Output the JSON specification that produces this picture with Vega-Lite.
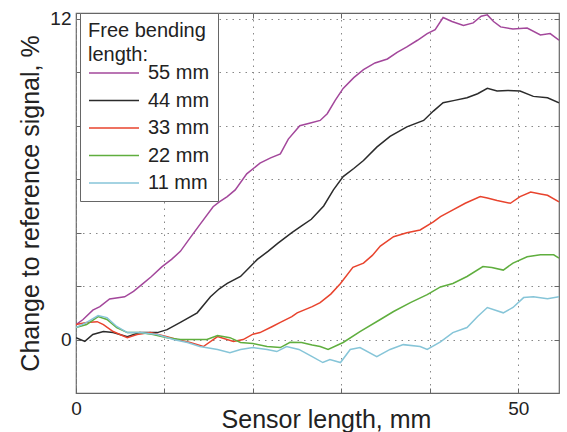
{
  "$schema": "https://vega.github.io/schema/vega-lite/v6.json",
  "width": 483,
  "height": 380,
  "autosize": "none",
  "padding": {"left": 76, "top": 13, "right": 8, "bottom": 39},
  "background": "white",
  "config": {
    "font": "Liberation Sans",
    "view": {"stroke": "#666", "strokeWidth": 1.2},
    "axis": {"domain": false, "labelColor": "#222", "titleColor": "#222", "titleFontWeight": "normal", "tickColor": "#666", "gridColor": "#888", "gridDash": [1.5, 5], "gridWidth": 1, "gridOpacity": 1}
  },
  "data": {"values": [
    {"s":"55 mm","x":0,"y":0.56},{"s":"55 mm","x":0.8,"y":0.75},{"s":"55 mm","x":1.9,"y":1.1},{"s":"55 mm","x":2.7,"y":1.23},{"s":"55 mm","x":3.8,"y":1.52},{"s":"55 mm","x":5.5,"y":1.6},{"s":"55 mm","x":6.5,"y":1.8},{"s":"55 mm","x":7.6,"y":2.1},{"s":"55 mm","x":8.5,"y":2.35},{"s":"55 mm","x":9.7,"y":2.72},{"s":"55 mm","x":10.8,"y":3.0},{"s":"55 mm","x":11.8,"y":3.3},{"s":"55 mm","x":13,"y":3.85},{"s":"55 mm","x":14,"y":4.3},{"s":"55 mm","x":15.5,"y":4.97},{"s":"55 mm","x":16.2,"y":5.15},{"s":"55 mm","x":17.1,"y":5.35},{"s":"55 mm","x":18,"y":5.6},{"s":"55 mm","x":19.3,"y":6.2},{"s":"55 mm","x":20.8,"y":6.6},{"s":"55 mm","x":22,"y":6.8},{"s":"55 mm","x":23.1,"y":6.95},{"s":"55 mm","x":24,"y":7.5},{"s":"55 mm","x":25.3,"y":8.0},{"s":"55 mm","x":26.5,"y":8.1},{"s":"55 mm","x":27.6,"y":8.2},{"s":"55 mm","x":28.4,"y":8.45},{"s":"55 mm","x":29.3,"y":8.95},{"s":"55 mm","x":30.2,"y":9.4},{"s":"55 mm","x":31.4,"y":9.8},{"s":"55 mm","x":32.5,"y":10.1},{"s":"55 mm","x":33.8,"y":10.35},{"s":"55 mm","x":35.2,"y":10.5},{"s":"55 mm","x":36.3,"y":10.75},{"s":"55 mm","x":37.4,"y":10.95},{"s":"55 mm","x":38.6,"y":11.2},{"s":"55 mm","x":39.7,"y":11.45},{"s":"55 mm","x":40.6,"y":11.6},{"s":"55 mm","x":41.5,"y":12.05},{"s":"55 mm","x":42.5,"y":11.9},{"s":"55 mm","x":43.8,"y":11.75},{"s":"55 mm","x":44.9,"y":11.85},{"s":"55 mm","x":45.8,"y":12.1},{"s":"55 mm","x":46.5,"y":12.15},{"s":"55 mm","x":47.2,"y":11.9},{"s":"55 mm","x":48,"y":11.7},{"s":"55 mm","x":49.4,"y":11.62},{"s":"55 mm","x":51,"y":11.66},{"s":"55 mm","x":52.5,"y":11.4},{"s":"55 mm","x":53.6,"y":11.45},{"s":"55 mm","x":54.6,"y":11.2},
    {"s":"44 mm","x":0,"y":0.07},{"s":"44 mm","x":1,"y":-0.07},{"s":"44 mm","x":1.9,"y":0.19},{"s":"44 mm","x":3.1,"y":0.3},{"s":"44 mm","x":4.2,"y":0.26},{"s":"44 mm","x":5.8,"y":0.11},{"s":"44 mm","x":7.2,"y":0.26},{"s":"44 mm","x":9.2,"y":0.26},{"s":"44 mm","x":10.3,"y":0.37},{"s":"44 mm","x":11.8,"y":0.64},{"s":"44 mm","x":13.7,"y":1.0},{"s":"44 mm","x":15.2,"y":1.6},{"s":"44 mm","x":16.2,"y":1.9},{"s":"44 mm","x":17.1,"y":2.1},{"s":"44 mm","x":18.6,"y":2.36},{"s":"44 mm","x":19.6,"y":2.7},{"s":"44 mm","x":20.5,"y":3.0},{"s":"44 mm","x":21.7,"y":3.3},{"s":"44 mm","x":22.8,"y":3.6},{"s":"44 mm","x":24.4,"y":4.0},{"s":"44 mm","x":25.5,"y":4.25},{"s":"44 mm","x":26.6,"y":4.5},{"s":"44 mm","x":28,"y":5.0},{"s":"44 mm","x":29.1,"y":5.6},{"s":"44 mm","x":30.2,"y":6.1},{"s":"44 mm","x":31.4,"y":6.4},{"s":"44 mm","x":32.5,"y":6.7},{"s":"44 mm","x":34,"y":7.2},{"s":"44 mm","x":35.5,"y":7.6},{"s":"44 mm","x":37.4,"y":7.96},{"s":"44 mm","x":39.3,"y":8.2},{"s":"44 mm","x":40.4,"y":8.55},{"s":"44 mm","x":41.5,"y":8.86},{"s":"44 mm","x":42.8,"y":8.95},{"s":"44 mm","x":44.2,"y":9.05},{"s":"44 mm","x":45.4,"y":9.2},{"s":"44 mm","x":46.5,"y":9.4},{"s":"44 mm","x":47.6,"y":9.3},{"s":"44 mm","x":48.8,"y":9.32},{"s":"44 mm","x":50.2,"y":9.3},{"s":"44 mm","x":51.7,"y":9.1},{"s":"44 mm","x":53.3,"y":9.05},{"s":"44 mm","x":54.6,"y":8.86},
    {"s":"33 mm","x":0,"y":0.56},{"s":"33 mm","x":1.2,"y":0.64},{"s":"33 mm","x":2.4,"y":0.67},{"s":"33 mm","x":3.1,"y":0.56},{"s":"33 mm","x":4.2,"y":0.3},{"s":"33 mm","x":5.8,"y":0.07},{"s":"33 mm","x":6.9,"y":0.19},{"s":"33 mm","x":8.4,"y":0.26},{"s":"33 mm","x":10.3,"y":0.11},{"s":"33 mm","x":11.4,"y":0.0},{"s":"33 mm","x":12.9,"y":-0.11},{"s":"33 mm","x":14.4,"y":-0.26},{"s":"33 mm","x":16,"y":0.11},{"s":"33 mm","x":17.8,"y":-0.07},{"s":"33 mm","x":18.9,"y":0.0},{"s":"33 mm","x":20,"y":0.2},{"s":"33 mm","x":20.8,"y":0.26},{"s":"33 mm","x":22.2,"y":0.49},{"s":"33 mm","x":23.1,"y":0.64},{"s":"33 mm","x":24.4,"y":0.86},{"s":"33 mm","x":25,"y":1.0},{"s":"33 mm","x":26.7,"y":1.23},{"s":"33 mm","x":27.6,"y":1.38},{"s":"33 mm","x":28.8,"y":1.7},{"s":"33 mm","x":29.9,"y":2.1},{"s":"33 mm","x":31.3,"y":2.7},{"s":"33 mm","x":32.5,"y":2.86},{"s":"33 mm","x":33.5,"y":3.15},{"s":"33 mm","x":34.4,"y":3.5},{"s":"33 mm","x":35.9,"y":3.85},{"s":"33 mm","x":37.4,"y":4.0},{"s":"33 mm","x":38.9,"y":4.1},{"s":"33 mm","x":40.4,"y":4.4},{"s":"33 mm","x":41.2,"y":4.6},{"s":"33 mm","x":42.3,"y":4.8},{"s":"33 mm","x":44,"y":5.1},{"s":"33 mm","x":45.7,"y":5.35},{"s":"33 mm","x":46.5,"y":5.3},{"s":"33 mm","x":47.6,"y":5.2},{"s":"33 mm","x":49.1,"y":5.1},{"s":"33 mm","x":50.2,"y":5.35},{"s":"33 mm","x":51.4,"y":5.52},{"s":"33 mm","x":52.5,"y":5.45},{"s":"33 mm","x":53.3,"y":5.4},{"s":"33 mm","x":54.6,"y":5.15},
    {"s":"22 mm","x":0,"y":0.45},{"s":"22 mm","x":1.2,"y":0.56},{"s":"22 mm","x":2.5,"y":0.86},{"s":"22 mm","x":3.5,"y":0.75},{"s":"22 mm","x":4.6,"y":0.45},{"s":"22 mm","x":5.8,"y":0.26},{"s":"22 mm","x":7.2,"y":0.26},{"s":"22 mm","x":8.7,"y":0.19},{"s":"22 mm","x":10.3,"y":0.07},{"s":"22 mm","x":11.8,"y":0.0},{"s":"22 mm","x":13.2,"y":0.0},{"s":"22 mm","x":14.8,"y":0.0},{"s":"22 mm","x":16,"y":0.15},{"s":"22 mm","x":17.4,"y":0.07},{"s":"22 mm","x":18.6,"y":-0.11},{"s":"22 mm","x":20,"y":-0.15},{"s":"22 mm","x":21.6,"y":-0.26},{"s":"22 mm","x":23.1,"y":-0.3},{"s":"22 mm","x":24.2,"y":-0.1},{"s":"22 mm","x":25.5,"y":-0.11},{"s":"22 mm","x":26.7,"y":-0.2},{"s":"22 mm","x":27.6,"y":-0.26},{"s":"22 mm","x":28.5,"y":-0.37},{"s":"22 mm","x":30.2,"y":-0.11},{"s":"22 mm","x":32.1,"y":0.3},{"s":"22 mm","x":34.4,"y":0.75},{"s":"22 mm","x":35.9,"y":1.05},{"s":"22 mm","x":37.8,"y":1.38},{"s":"22 mm","x":39.7,"y":1.68},{"s":"22 mm","x":41.2,"y":1.97},{"s":"22 mm","x":42.6,"y":2.1},{"s":"22 mm","x":44.2,"y":2.36},{"s":"22 mm","x":46,"y":2.73},{"s":"22 mm","x":47,"y":2.7},{"s":"22 mm","x":48.3,"y":2.6},{"s":"22 mm","x":49.4,"y":2.86},{"s":"22 mm","x":51,"y":3.1},{"s":"22 mm","x":52.5,"y":3.17},{"s":"22 mm","x":54,"y":3.17},{"s":"22 mm","x":54.6,"y":3.05},
    {"s":"11 mm","x":0,"y":0.45},{"s":"11 mm","x":1.2,"y":0.64},{"s":"11 mm","x":2.5,"y":0.9},{"s":"11 mm","x":3.5,"y":0.82},{"s":"11 mm","x":4.6,"y":0.49},{"s":"11 mm","x":5.8,"y":0.26},{"s":"11 mm","x":7.2,"y":0.26},{"s":"11 mm","x":9.2,"y":0.19},{"s":"11 mm","x":11,"y":0.0},{"s":"11 mm","x":12.6,"y":-0.11},{"s":"11 mm","x":14,"y":-0.26},{"s":"11 mm","x":16,"y":-0.37},{"s":"11 mm","x":17.4,"y":-0.49},{"s":"11 mm","x":18.6,"y":-0.37},{"s":"11 mm","x":20,"y":-0.3},{"s":"11 mm","x":21.6,"y":-0.37},{"s":"11 mm","x":22.7,"y":-0.45},{"s":"11 mm","x":23.8,"y":-0.26},{"s":"11 mm","x":25.2,"y":-0.37},{"s":"11 mm","x":26.7,"y":-0.64},{"s":"11 mm","x":27.9,"y":-0.86},{"s":"11 mm","x":28.7,"y":-0.75},{"s":"11 mm","x":29.9,"y":-0.86},{"s":"11 mm","x":31,"y":-0.37},{"s":"11 mm","x":32.1,"y":-0.3},{"s":"11 mm","x":34,"y":-0.64},{"s":"11 mm","x":35.5,"y":-0.37},{"s":"11 mm","x":37,"y":-0.19},{"s":"11 mm","x":38.9,"y":-0.26},{"s":"11 mm","x":39.7,"y":-0.37},{"s":"11 mm","x":41.2,"y":-0.09},{"s":"11 mm","x":42.6,"y":0.26},{"s":"11 mm","x":44.2,"y":0.45},{"s":"11 mm","x":45.4,"y":0.86},{"s":"11 mm","x":46.5,"y":1.2},{"s":"11 mm","x":48.3,"y":1.0},{"s":"11 mm","x":49.4,"y":1.2},{"s":"11 mm","x":50.6,"y":1.57},{"s":"11 mm","x":51.7,"y":1.6},{"s":"11 mm","x":53.3,"y":1.53},{"s":"11 mm","x":54.6,"y":1.6}
  ]},
  "layer": [
    {
      "mark": {"type": "line", "strokeWidth": 1.5, "clip": true},
      "encoding": {
        "x": {
          "field": "x", "type": "quantitative",
          "scale": {"domain": [0, 54.6], "nice": false, "zero": false},
          "axis": {
            "title": "Sensor length, mm", "titleFontSize": 25, "titleBaseline": "alphabetic", "titleY": 34, "titleX": 250, "titleAlign": "center",
            "values": [0, 10, 20, 30, 40, 50],
            "labelExpr": "datum.value == 0 || datum.value == 50 ? datum.label : ''",
            "labelFontSize": 19, "labelFlush": false, "labelOverlap": false, "labelPadding": 11,
            "grid": true, "tickSize": -5
          }
        },
        "y": {
          "field": "y", "type": "quantitative",
          "scale": {"domain": [-2, 12.22], "nice": false, "zero": false},
          "axis": {
            "title": "Change to reference signal, %", "titleFontSize": 25, "titlePadding": 6,
            "values": [0, 2, 4, 6, 8, 10, 12],
            "labelExpr": "datum.value == 0 || datum.value == 12 ? datum.label : ''",
            "labelFontSize": 19, "labelFlush": false, "labelOverlap": false, "labelPadding": 10,
            "grid": true, "tickSize": -5
          }
        },
        "color": {
          "field": "s", "type": "nominal",
          "scale": {"domain": ["55 mm", "44 mm", "33 mm", "22 mm", "11 mm"], "range": ["#a3479b", "#2b2b2b", "#e8432d", "#5fae3e", "#86c5d8"]},
          "legend": {
            "orient": "none", "legendX": 4, "legendY": 0,
            "title": ["Free bending", "length:"], "titleFontSize": 20, "titleFontWeight": "normal", "titleColor": "#222", "titleLineHeight": 24, "titlePadding": -3,
            "labelFontSize": 20, "labelColor": "#222", "labelOffset": 38,
            "symbolType": "M-1,0H4", "symbolSize": 400, "symbolStrokeWidth": 1.5,
            "strokeColor": "#666", "fillColor": "white", "padding": 8, "rowPadding": 6.5
          }
        }
      }
    },
    {
      "mark": {"type": "line", "opacity": 0, "clip": true},
      "encoding": {
        "detail": {"field": "s"},
        "x": {
          "field": "x", "type": "quantitative",
          "scale": {"domain": [0, 54.6], "nice": false, "zero": false},
          "axis": {"orient": "top", "title": null, "values": [0, 10, 20, 30, 40, 50], "labels": false, "grid": false, "tickSize": -5}
        },
        "y": {
          "field": "y", "type": "quantitative",
          "scale": {"domain": [-2, 12.22], "nice": false, "zero": false},
          "axis": {"orient": "right", "title": null, "values": [0, 2, 4, 6, 8, 10, 12], "labels": false, "grid": false, "tickSize": -5}
        }
      }
    }
  ],
  "resolve": {"scale": {"x": "independent", "y": "independent"}, "axis": {"x": "independent", "y": "independent"}}
}
